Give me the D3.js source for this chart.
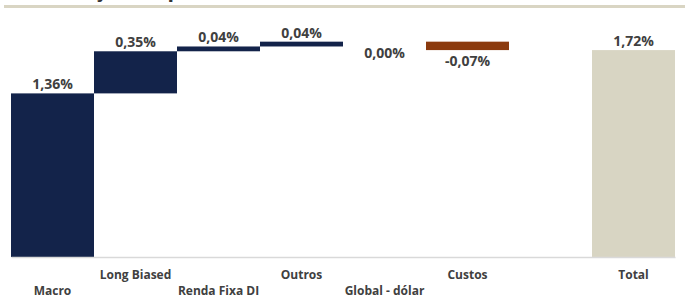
<!DOCTYPE html>
<html>
<head>
<meta charset="utf-8">
<script src="https://cdn.jsdelivr.net/npm/d3@7"></script>
<style>
	body { margin:0; background:#fff; }
	svg { display:block; font-family:"Open Sans", sans-serif; }
</style>
</head>
<body>
<div id="grafico"></div>
<script>
// dados
var categorias = ["Macro", "Long Biased", "Renda Fixa DI", "Outros", "Global - dólar", "Custos", "", "Total"];
var valores = [1.36, 0.35, 0.04, 0.04, 0.00, -0.07, null, 1.72];
var rotulos = ["1,36%", "0,35%", "0,04%", "0,04%", "0,00%", "-0,07%", "", "1,72%"];
var titulo = "Atribuição de performance";

var largura = 685, altura = 299;
var corPos = "#13234a", corNeg = "#8b3a0e", corTotal = "#d8d5c3";

var svg = d3.select("#grafico").append("svg")
	.attr("width", largura).attr("height", altura);

// titulo (cortado no topo) e linha
svg.append("text")
	.attr("x", 20).attr("y", -3)
	.attr("font-size", 21.2).attr("font-weight", "bold")
	.attr("fill", "#333")
	.text(titulo);
svg.append("rect")
	.attr("x", 4).attr("y", 5).attr("width", largura - 4).attr("height", 3)
	.attr("fill", "#d9d5c3");

var x = d3.scaleBand().domain(d3.range(categorias.length)).range([11, 675]).padding(0);
var y = d3.scaleLinear().domain([0, 2]).range([257, 16.4]);

// monta os degraus do waterfall
var dados = [];
var acumulado = 0;
for (var i = 0; i < categorias.length; i++) {
	if (valores[i] === null) continue;
	var d = { i: i, valor: valores[i], rotulo: rotulos[i] };
	if (categorias[i] == "Total") {
		d.ini = 0; d.fim = valores[i]; d.total = true;
	} else {
		d.ini = acumulado; d.fim = acumulado + valores[i];
		acumulado = d.fim;
	}
	dados.push(d);
}

svg.append("g").selectAll("rect").data(dados).enter().append("rect")
	.attr("x", function(d){ return x(d.i); })
	.attr("width", x.bandwidth())
	.attr("y", function(d){ return y(Math.max(d.ini, d.fim)); })
	.attr("height", function(d){ return Math.abs(y(d.ini) - y(d.fim)); })
	.attr("fill", function(d){ return d.total ? corTotal : (d.valor < 0 ? corNeg : corPos); });

svg.append("g").selectAll("text").data(dados).enter().append("text")
	.attr("x", function(d){ return x(d.i) + x.bandwidth() / 2; })
	.attr("y", function(d){
		if (!d.total && d.valor <= 0) return y(Math.min(d.ini, d.fim)) + 16;
		return y(Math.max(d.ini, d.fim)) - 4;
	})
	.attr("text-anchor", "middle")
	.attr("font-size", 14).attr("font-weight", "bold")
	.attr("fill", "#404040")
	.text(function(d){ return d.rotulo; });

// eixo x
var eixo = svg.append("g")
	.attr("transform", "translate(0," + y(0) + ")")
	.call(d3.axisBottom(x).tickSize(0).tickFormat(function(i){ return categorias[i]; }));
eixo.select(".domain").attr("stroke", "#d9d9d9").attr("stroke-width", 1.5);
eixo.selectAll("text")
	.attr("dy", 0)
	.attr("y", function(i){ return i % 2 == 1 ? 22 : 38; })
	.attr("font-family", "Open Sans")
	.attr("font-size", 12).attr("font-weight", "bold")
	.attr("fill", "#404040");
</script>
</body>
</html>
